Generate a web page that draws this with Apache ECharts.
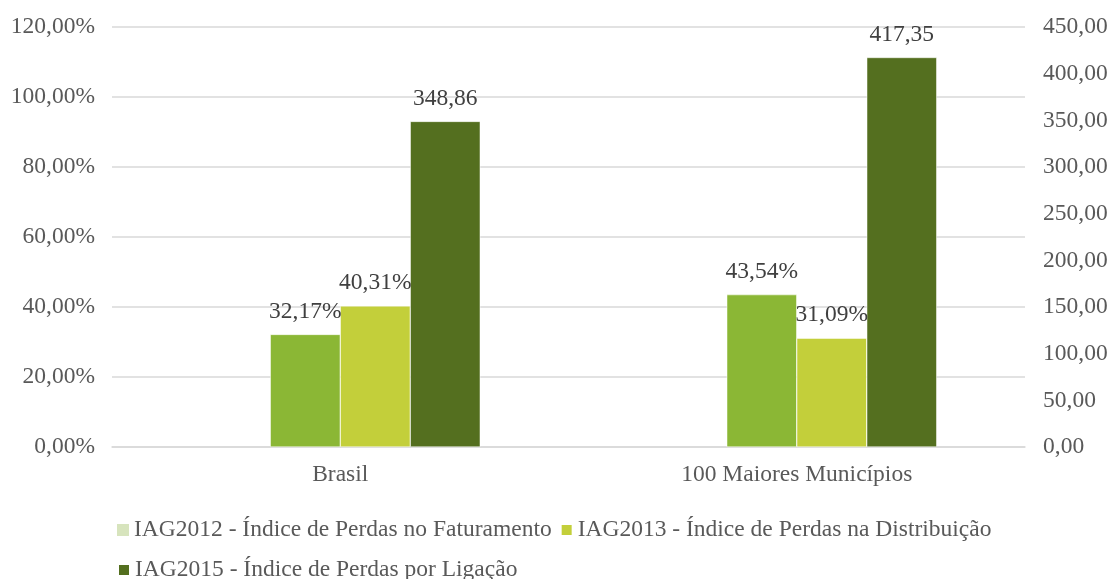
<!DOCTYPE html>
<html>
<head>
<meta charset="utf-8">
<script src="https://cdn.jsdelivr.net/npm/echarts@6/dist/echarts.min.js"></script>
<style>
    html, body { margin: 0; padding: 0; background: #fff; }
    #main { width: 1113px; height: 579px; }
</style>
</head>
<body>
<div id="main"></div>
<script>
const categories = ['Brasil', '100 Maiores Municípios'];
const names = [
    'IAG2012 - Índice de Perdas no Faturamento',
    'IAG2013 - Índice de Perdas na Distribuição',
    'IAG2015 - Índice de Perdas por Ligação'
];
const iag2012 = [null, null];          // slot vazio no gráfico original
const faturamento = [32.17, 43.54];    // barras verde médio (%)
const iag2013 = [40.31, 31.09];        // %
const iag2015 = [348.86, 417.35];      // eixo direito
const leftTicks = [0, 120, 20];
const rightTicks = [0, 450, 50];

const serif = '"Liberation Serif", "Times New Roman", serif';
const fs = 23.5;

function fmt(v, d) {
    return v.toFixed(d).replace('.', ',');
}

function label(suffix) {
    return {
        show: true,
        position: 'top',
        distance: 11,
        fontFamily: serif,
        fontSize: fs,
        color: '#404040',
        formatter: p => fmt(p.value, 2) + suffix
    };
}

let myChart = echarts.init(document.getElementById('main'));
let option = {
    animation: false,
    grid: { left: 112, right: 88, top: 27, bottom: 132 },
    legend: [
        {
            data: [names[0], names[1]],
            left: 112, top: 513,
            itemWidth: 12, itemHeight: 12, itemGap: 8,
            icon: 'rect',
            textStyle: { fontFamily: serif, fontSize: fs, color: '#595959' }
        },
        {
            data: [names[2]],
            left: 112, top: 553,
            itemWidth: 12, itemHeight: 12,
            icon: 'rect',
            textStyle: { fontFamily: serif, fontSize: fs, color: '#595959' }
        }
    ],
    xAxis: {
        type: 'category',
        data: categories,
        axisTick: { show: false },
        axisLine: { lineStyle: { color: '#D9D9D9', width: 1.5 } },
        axisLabel: { fontFamily: serif, fontSize: fs, color: '#595959', margin: 16 }
    },
    yAxis: [
        {
            type: 'value',
            min: leftTicks[0], max: leftTicks[1], interval: leftTicks[2],
            axisLine: { show: false },
            axisTick: { show: false },
            splitLine: { lineStyle: { color: '#D9D9D9', width: 1.5 } },
            axisLabel: {
                fontFamily: serif, fontSize: fs, color: '#595959', margin: 17,
                formatter: v => fmt(v, 2) + '%'
            }
        },
        {
            type: 'value',
            min: rightTicks[0], max: rightTicks[1], interval: rightTicks[2],
            axisLine: { show: false },
            axisTick: { show: false },
            splitLine: { show: false },
            axisLabel: {
                fontFamily: serif, fontSize: fs, color: '#595959', margin: 18,
                formatter: v => fmt(v, 2)
            }
        }
    ],
    series: [
        {
            name: names[0], type: 'bar', data: iag2012,
            itemStyle: { color: '#D7E4BD' },
            barWidth: 70, barGap: '0%'
        },
        {
            name: 'Faturamento', type: 'bar', data: faturamento,
            itemStyle: { color: '#8BB735', borderColor: '#fff', borderWidth: 0.5 },
            barWidth: 70, barGap: '0%',
            label: label('%')
        },
        {
            name: names[1], type: 'bar', data: iag2013,
            itemStyle: { color: '#C3CF3A', borderColor: '#fff', borderWidth: 0.5 },
            barWidth: 70, barGap: '0%',
            label: label('%')
        },
        {
            name: names[2], type: 'bar', data: iag2015, yAxisIndex: 1,
            itemStyle: { color: '#546F1F', borderColor: '#fff', borderWidth: 0.5 },
            barWidth: 70, barGap: '0%',
            label: label('')
        }
    ]
};
option && myChart.setOption(option);
</script>
</body>
</html>
